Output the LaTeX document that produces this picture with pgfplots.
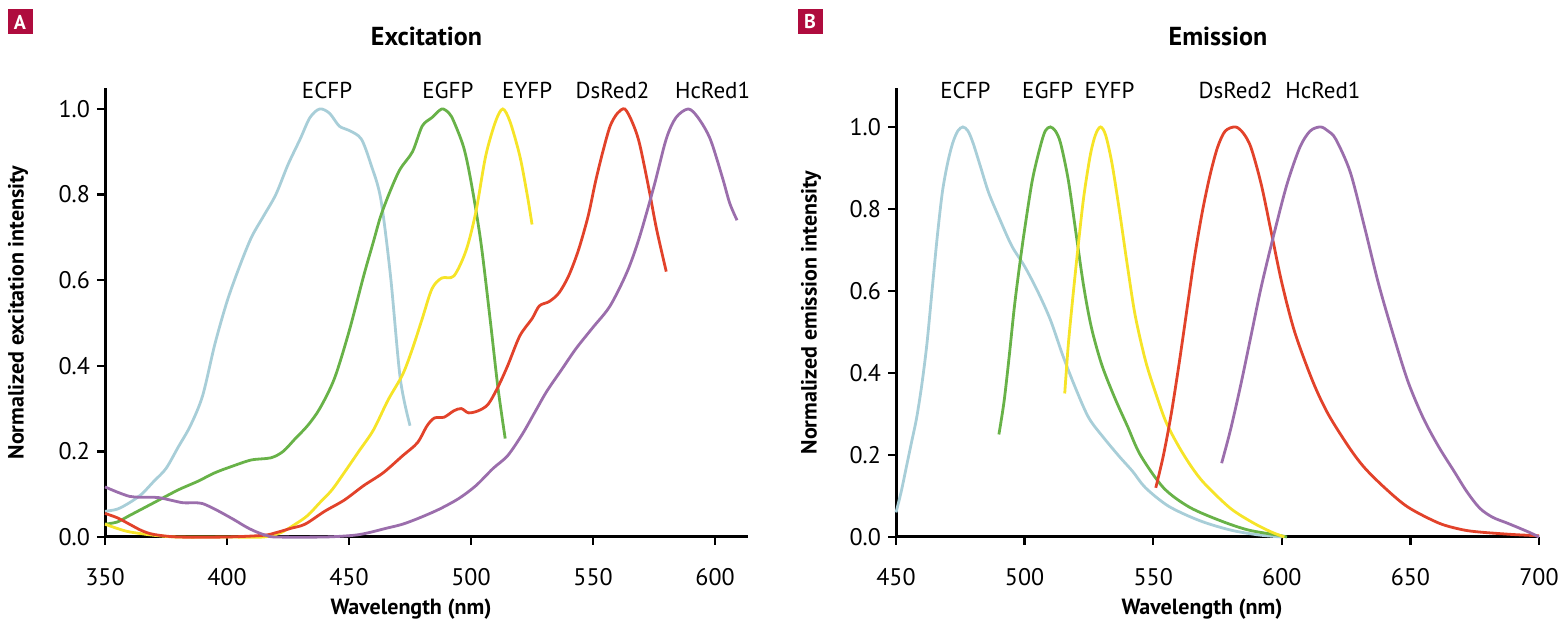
\documentclass[border=0pt]{standalone}
\usepackage{fontspec}
\setmainfont{PT Sans}
\usepackage{pgfplots}
\pgfplotsset{compat=1.18}

\definecolor{ecfp}{RGB}{168,206,216}
\definecolor{egfp}{RGB}{104,178,72}
\definecolor{eyfp}{RGB}{246,228,40}
\definecolor{dsred}{RGB}{226,66,42}
\definecolor{hcred}{RGB}{155,110,172}
\definecolor{panel}{RGB}{175,12,62}

\pgfplotsset{
  spec/.style={
    scale only axis, width=321.5pt, height=224.5pt,
    axis lines*=left, ymin=0,
    axis line style={black, line width=1.5pt},
    tick style={black, line width=1.2pt}, major tick length=4pt, tick align=outside,
    ytick={0,0.2,...,1.0},
    yticklabel style={/pgf/number format/.cd, fixed, fixed zerofill, precision=1},
    /pgf/number format/assume math mode=true,
    ticklabel style={font=\fontsize{12}{14}\selectfont},
    xticklabel style={yshift=-8pt},
    label style={font=\bfseries\fontsize{11}{13}\selectfont},
    xlabel={Wavelength (nm)},
    xlabel style={at={(axis description cs:0.476,-0.16)}, anchor=center},
    clip=false,
  },
  curve/.style={line width=1.4pt, smooth, no markers},
}

\begin{document}
\begin{tikzpicture}
\path[use as bounding box] (0pt,0pt) rectangle (783pt,312pt);

% panel letters and titles
\node[fill=panel, minimum size=12.5pt, inner sep=0pt, text=white,
  font=\bfseries\fontsize{10}{12}\selectfont] at (10pt,301pt) {A};
\node[fill=panel, minimum size=12.5pt, inner sep=0pt, text=white,
  font=\bfseries\fontsize{10}{12}\selectfont] at (405pt,301pt) {B};
\node[font=\bfseries\fontsize{13}{15}\selectfont] at (213.25pt,294pt) {Excitation};
\node[font=\bfseries\fontsize{13}{15}\selectfont] at (609pt,294pt) {Emission};

% ---------------- A: excitation ----------------
\begin{axis}[spec, at={(52.5pt,43.5pt)}, anchor=south west,
  xmin=350, xmax=613.5, ymax=1.049,
  xtick={350,400,...,600},
  ylabel={Normalized excitation intensity},
  ylabel style={at={(axis description cs:-0.1353,0.5)}, anchor=center},
]
% ECFP
\addplot[curve, ecfp] coordinates {
(350,0.06)(355,0.065)(360,0.08)(365,0.10)(370,0.13)(375,0.16)(380,0.21)
(385,0.26)(390,0.33)(395,0.45)(400,0.55)(405,0.63)(410,0.70)(415,0.75)
(420,0.80)(425,0.87)(430,0.93)(434,0.98)(438,1.0)(442,0.99)(446,0.96)
(450,0.95)(455,0.93)(459,0.87)(463,0.79)(467,0.61)(471,0.37)(475,0.26)};
% EGFP
\addplot[curve, egfp] coordinates {
(350,0.03)(355,0.035)(360,0.05)(370,0.08)(380,0.11)(388,0.13)(395,0.15)
(402,0.165)(410,0.18)(418,0.185)(423,0.20)(428,0.23)(433,0.26)(438,0.30)
(444,0.37)(450,0.48)(456,0.61)(460,0.69)(463,0.75)(467,0.81)(471,0.86)
(476,0.90)(480,0.96)(484,0.98)(488,1.0)(491,0.99)(493,0.97)(497,0.91)
(500,0.83)(504,0.69)(508,0.50)(511,0.35)(514,0.23)};
% EYFP
\addplot[curve, eyfp] coordinates {
(350,0.03)(355,0.02)(360,0.012)(370,0.004)(380,0.0)(400,0.0)(415,0.0)
(422,0.01)(428,0.03)(433,0.05)(438,0.08)(443,0.11)(448,0.15)(454,0.20)
(460,0.25)(466,0.32)(472,0.38)(476,0.44)(480,0.51)(484,0.58)(488,0.605)
(493,0.61)(498,0.67)(502,0.76)(506,0.89)(510,0.97)(513,1.0)(516,0.97)
(520,0.89)(523,0.80)(525,0.73)};
% DsRed2
\addplot[curve, dsred] coordinates {
(350,0.055)(355,0.045)(360,0.03)(365,0.015)(370,0.006)(380,0.0)(400,0.0)
(415,0.004)(420,0.01)(426,0.02)(432,0.03)(440,0.06)(448,0.086)(456,0.12)
(464,0.15)(472,0.19)(478,0.22)(482,0.26)(485,0.278)(489,0.28)(493,0.295)
(496,0.30)(499,0.29)(503,0.295)(507,0.31)(511,0.35)(515,0.40)(520,0.47)
(525,0.51)(528,0.54)(532,0.55)(536,0.57)(540,0.61)(544,0.67)(548,0.75)
(551,0.83)(554,0.90)(557,0.96)(560,0.99)(563,1.0)(566,0.97)(569,0.92)
(573,0.81)(576,0.72)(580,0.62)};
% HcRed1
\addplot[curve, hcred] coordinates {
(350,0.117)(355,0.105)(360,0.095)(364,0.093)(368,0.093)(372,0.092)(377,0.086)
(382,0.08)(387,0.08)(390,0.078)(394,0.068)(398,0.056)(403,0.04)(408,0.023)
(412,0.012)(416,0.004)(420,0.0)(440,0.0)(452,0.004)(458,0.01)(465,0.02)
(472,0.03)(479,0.045)(487,0.065)(495,0.09)(502,0.12)(509,0.16)(515,0.19)
(521,0.24)(526,0.29)(531,0.34)(537,0.39)(543,0.44)(550,0.49)(557,0.54)
(564,0.62)(569,0.70)(575,0.82)(580,0.93)(584,0.98)(589,1.0)(593,0.98)
(598,0.93)(603,0.84)(606,0.78)(609,0.74)};
\foreach \x/\t in {441/ECFP,490.5/EGFP,523/EYFP,558/DsRed2,599/HcRed1}{
  \edef\tmp{\noexpand\node[font=\noexpand\fontsize{11.5}{13}\noexpand\selectfont]
    at (axis cs:\x,1.044) {\t};}\tmp}
\end{axis}

% ---------------- B: emission ----------------
\begin{axis}[spec, at={(448pt,43.5pt)}, anchor=south west,
  xmin=450, xmax=700, ymax=1.095,
  xtick={450,500,...,700},
  ylabel={Normalized emission intensity},
  ylabel style={at={(axis description cs:-0.132,0.5)}, anchor=center},
]
% ECFP
\addplot[curve, ecfp] coordinates {
(450,0.06)(452,0.11)(454,0.17)(456,0.23)(458,0.29)(460,0.37)(462,0.47)
(464,0.60)(466,0.73)(468,0.84)(470,0.91)(472,0.96)(474,0.99)(476,1.0)
(478,0.99)(480,0.96)(483,0.90)(486,0.84)(490,0.78)(495,0.71)(500,0.66)
(505,0.60)(510,0.53)(515,0.44)(520,0.36)(525,0.29)(531,0.24)(537,0.195)
(542,0.16)(547,0.12)(556,0.075)(568,0.04)(580,0.017)(591,0.005)(600,0.0)};
% EGFP
\addplot[curve, egfp] coordinates {
(490,0.25)(492,0.33)(494,0.44)(496,0.56)(498,0.66)(500,0.75)(503,0.87)
(506,0.95)(508,0.99)(510,1.0)(512,0.99)(514,0.96)(517,0.87)(520,0.74)
(523,0.61)(526,0.51)(530,0.42)(535,0.34)(540,0.27)(545,0.20)(554,0.12)
(564,0.073)(576,0.04)(587,0.017)(599,0.004)(602,0.0)};
% EYFP
\addplot[curve, eyfp] coordinates {
(515.6,0.35)(517,0.47)(519,0.60)(521,0.72)(523,0.83)(525.5,0.93)(527.5,0.98)
(529.5,1.0)(531.5,0.98)(534,0.91)(537,0.79)(540,0.66)(543,0.54)(547,0.43)
(551,0.35)(555,0.28)(560,0.22)(565,0.17)(570,0.13)(580,0.07)(589,0.034)
(596,0.012)(601,0.0)};
% DsRed2
\addplot[curve, dsred] coordinates {
(551,0.12)(554,0.20)(557,0.30)(560,0.42)(563,0.55)(566,0.68)(569,0.79)
(572,0.88)(575,0.95)(578,0.99)(582,1.0)(585,0.985)(588,0.95)(592,0.86)
(596,0.74)(600,0.62)(605,0.50)(612,0.38)(618,0.30)(626,0.22)(632,0.17)
(640,0.12)(649,0.073)(661,0.034)(670,0.018)(677,0.012)(690,0.006)(700,0.003)};
% HcRed1
\addplot[curve, hcred] coordinates {
(576.6,0.18)(580,0.26)(584,0.37)(588,0.49)(592,0.61)(597,0.74)(602,0.86)
(607,0.95)(611,0.99)(615,1.0)(618,0.99)(621,0.97)(626.6,0.89)(632,0.76)
(637.5,0.62)(643,0.50)(649,0.38)(655,0.29)(661,0.22)(667,0.16)(672,0.11)
(677,0.07)(682,0.048)(688,0.033)(696,0.012)(700,0.0)};
\foreach \x/\t in {477/ECFP,509/EGFP,533/EYFP,582/DsRed2,616/HcRed1}{
  \edef\tmp{\noexpand\node[font=\noexpand\fontsize{11.5}{13}\noexpand\selectfont]
    at (axis cs:\x,1.09) {\t};}\tmp}
\end{axis}
\end{tikzpicture}
\end{document}
